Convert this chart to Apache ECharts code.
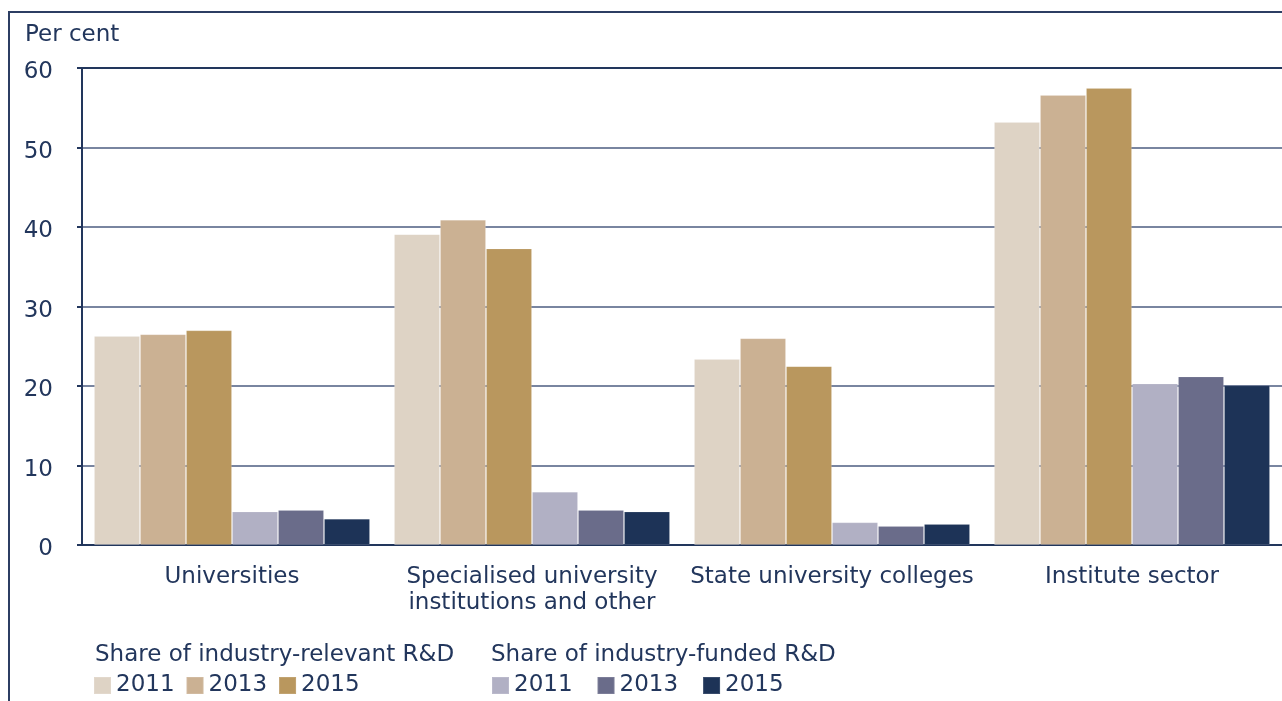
<!DOCTYPE html>
<html>
<head>
<meta charset="utf-8">
<script src="https://cdn.jsdelivr.net/npm/echarts@6/dist/echarts.min.js"></script>
<style>
html,body{margin:0;padding:0;background:#fff;}
#chart{width:1282px;height:701px;}
</style>
</head>
<body>
<div id="chart"></div>
<script>
var categories = ['Universities', 'Specialised university\ninstitutions and other', 'State university colleges', 'Institute sector'];
var yTicks = [0, 10, 20, 30, 40, 50, 60];
var relevant2011 = [26.3, 39.1, 23.4, 53.2];
var relevant2013 = [26.5, 40.9, 26.0, 56.6];
var relevant2015 = [27.0, 37.3, 22.5, 57.5];
var funded2011 = [4.2, 6.7, 2.85, 20.3];
var funded2013 = [4.4, 4.4, 2.4, 21.2];
var funded2015 = [3.3, 4.2, 2.65, 20.1];
var seriesNames = ['Relevant 2011', 'Relevant 2013', 'Relevant 2015', 'Funded 2011', 'Funded 2013', 'Funded 2015'];
var seriesData = [relevant2011, relevant2013, relevant2015, funded2011, funded2013, funded2015];
var seriesColors = ['#ded3c5', '#cbb193', '#b9975e', '#b1b0c4', '#6a6c8a', '#1d3357'];

var FONT = 'DejaVu Sans';
var FS = 23;
var TXT = '#22365c';
var chart = echarts.init(document.getElementById('chart'), null, {renderer: 'canvas'});

var series = seriesNames.map(function (n, i) {
  return {
    name: n,
    type: 'bar',
    data: seriesData[i],
    barGap: '0%',
    barCategoryGap: '8%',
    itemStyle: {color: seriesColors[i], borderColor: 'rgba(255,255,255,0.12)', borderWidth: 1},
    emphasis: {disabled: true}
  };
});

var legendCommon = {
  orient: 'horizontal',
  padding: 0,
  itemWidth: 17,
  itemHeight: 17,
  icon: 'rect',
  textStyle: {fontFamily: FONT, fontSize: FS, color: TXT},
  formatter: function (name) { return name.slice(-4); },
  selectedMode: false
};

chart.setOption({
  animation: false,
  backgroundColor: '#fff',
  textStyle: {fontFamily: FONT},
  grid: {left: 82, right: -3, top: 68, bottom: 156, containLabel: false},
  xAxis: {
    type: 'category',
    data: categories,
    axisLine: {show: true, lineStyle: {color: '#22365c', width: 2}},
    axisTick: {show: false},
    axisLabel: {fontFamily: FONT, fontSize: FS, color: TXT, margin: 19, lineHeight: 26, interval: 0}
  },
  yAxis: {
    type: 'value',
    min: yTicks[0],
    max: yTicks[yTicks.length - 1],
    interval: 10,
    axisLine: {show: true, lineStyle: {color: '#22365c', width: 2}},
    axisTick: {show: true, length: 5, lineStyle: {color: '#22365c', width: 2}},
    axisLabel: {fontFamily: FONT, fontSize: FS, color: TXT, margin: 29, verticalAlign: 'top', lineHeight: 9},
    splitLine: {show: true, lineStyle: {color: '#4d5d80', width: 1.5}}
  },
  legend: [
    Object.assign({}, legendCommon, {data: seriesNames.slice(0, 3), left: 93, top: 674, itemGap: 11}),
    Object.assign({}, legendCommon, {data: seriesNames.slice(3), left: 491, top: 674, itemGap: 24})
  ],
  graphic: [
    {type: 'polyline', shape: {points: [[9, 701], [9, 12], [1282, 12]]}, style: {stroke: '#2c3e63', lineWidth: 2, fill: null}, silent: true},
    {type: 'line', shape: {x1: 82, y1: 68, x2: 1282, y2: 68}, style: {stroke: '#22365c', lineWidth: 2}, z: 10, silent: true},
    {type: 'text', left: 25, top: 24, style: {text: 'Per cent', font: FS + 'px "DejaVu Sans"', fill: TXT}},
    {type: 'text', left: 95, top: 644, style: {text: 'Share of industry-relevant R&D', font: FS + 'px "DejaVu Sans"', fill: TXT}},
    {type: 'text', left: 491, top: 644, style: {text: 'Share of industry-funded R&D', font: FS + 'px "DejaVu Sans"', fill: TXT}}
  ],
  series: series
});
</script>
</body>
</html>
